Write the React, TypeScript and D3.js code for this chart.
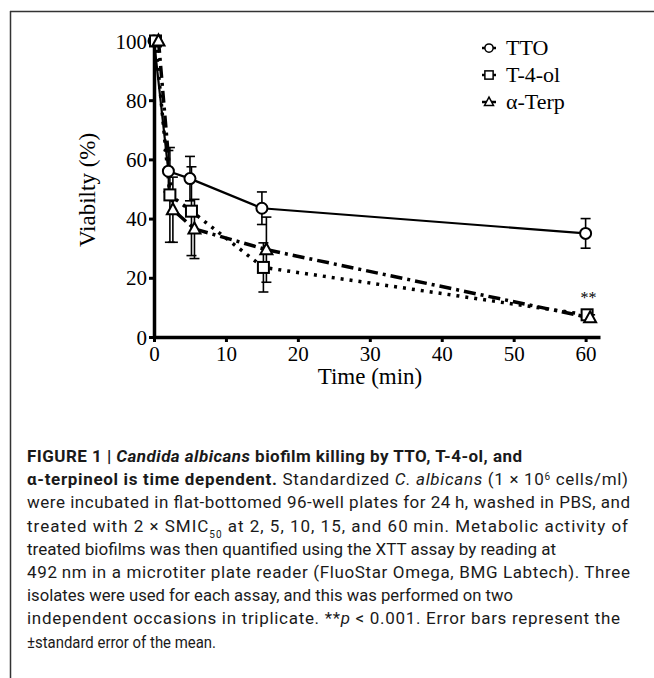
import React, { useEffect, useRef } from "react";
import * as d3 from "d3";

// time points (min) and mean viability (%) with SEM
const times = [0, 2, 5, 15, 60];
const ttoMean = [100, 56, 53.5, 43.5, 35];
const ttoErr = [0, 7, 7.5, 5.5, 5];
const t4olMean = [100, 48, 42.5, 23.5, 7.5];
const t4olErr = [0, 16, 15, 8.3, 1];
const terpMean = [100, 43, 36.5, 29.5, 6.5];
const terpErr = [0, 11, 10, 11, 1];

const xTicks = [0, 10, 20, 30, 40, 50, 60];
const yTicks = [0, 20, 40, 60, 80, 100];
const seriesNames = ["TTO", "T-4-ol", "\u03b1-Terp"];

const caption: [string, string][][] = [
  [["FIGURE 1 | ", "b"], ["Candida albicans", "bi"], [" biofilm killing by TTO, T-4-ol, and", "b"]],
  [["\u03b1-terpineol is time dependent.", "b"], [" Standardized ", "n"], ["C. albicans", "i"], [" (1 \u00d7 10", "n"], ["6", "sup"], [" cells/ml)", "n"]],
  [["were incubated in flat-bottomed 96-well plates for 24\u2009h, washed in PBS, and", "n"]],
  [["treated with 2 \u00d7 SMIC", "n"], ["50", "sub"], [" at 2, 5, 10, 15, and 60\u2009min. Metabolic activity of", "n"]],
  [["treated biofilms was then quantified using the XTT assay by reading at", "n"]],
  [["492\u2009nm in a microtiter plate reader (FluoStar Omega, BMG Labtech). Three", "n"]],
  [["isolates were used for each assay, and this was performed on two", "n"]],
  [["independent occasions in triplicate. **", "n"], ["p", "i"], [" < 0.001. Error bars represent the", "n"]],
  [["\u00b1standard error of the mean.", "n"]],
];
const captionWidths = [495, 601, 603, 601, 529, 603, 486, 593, 189];

const serif = "'Liberation Serif', 'Times New Roman', serif";

export default function App() {
  const ref = useRef<SVGSVGElement>(null);

  useEffect(() => {
    const svg = d3.select(ref.current);
    svg.selectAll("*").remove();

    // frame
    svg.append("line").attr("x1", 10).attr("x2", 654).attr("y1", 11.5).attr("y2", 11.5)
      .attr("stroke", "#333").attr("stroke-width", 1.5);
    svg.append("line").attr("x1", 10.5).attr("x2", 10.5).attr("y1", 11).attr("y2", 678)
      .attr("stroke", "#333").attr("stroke-width", 1.5);

    const x = d3.scaleLinear().domain([0, 62]).range([154, 600]);
    const y = d3.scaleLinear().domain([0, 101]).range([337, 38]);

    const xAxis = svg.append("g").attr("transform", "translate(0,337)")
      .call(d3.axisBottom(x).tickValues(xTicks).tickSize(5).tickSizeOuter(0).tickPadding(4));
    const yAxis = svg.append("g").attr("transform", "translate(154,0)")
      .call(d3.axisLeft(y).tickValues(yTicks).tickSize(5).tickSizeOuter(0).tickPadding(2));
    [xAxis, yAxis].forEach((g) => {
      g.select(".domain").attr("stroke", "#000").attr("stroke-width", 3.5);
      g.selectAll(".tick line").attr("stroke", "#000").attr("stroke-width", 3);
      g.selectAll(".tick text").attr("font-family", serif).attr("font-size", 21).attr("fill", "#000");
    });
    yAxis.selectAll(".tick text").attr("dy", "0.34em");

    svg.append("text").attr("transform", "translate(95,190) rotate(-90)")
      .attr("text-anchor", "middle").attr("font-family", serif).attr("font-size", 23)
      .text("Viabilty (%)");
    svg.append("text").attr("x", 370).attr("y", 384)
      .attr("text-anchor", "middle").attr("font-family", serif).attr("font-size", 23)
      .text("Time (min)");

    const series = [
      { mean: ttoMean, err: ttoErr, dash: null, width: 2.2, dx: 0, shape: "circle" },
      { mean: t4olMean, err: t4olErr, dash: "3,6", width: 3.5, dx: 1.5, shape: "square" },
      { mean: terpMean, err: terpErr, dash: "12,5,3,5", width: 3.5, dx: 4.5, shape: "triangle" },
    ];

    const marker = (g: any, shape: string, cx: number, cy: number) => {
      if (shape === "circle") {
        g.append("circle").attr("cx", cx).attr("cy", cy).attr("r", 5.5)
          .attr("fill", "#fff").attr("stroke", "#000").attr("stroke-width", 2);
      } else if (shape === "square") {
        g.append("rect").attr("x", cx - 5.5).attr("y", cy - 5.5).attr("width", 11).attr("height", 11)
          .attr("fill", "#fff").attr("stroke", "#000").attr("stroke-width", 2);
      } else {
        g.append("path").attr("d", `M${cx},${cy - 6.5}L${cx + 6},${cy + 4.5}L${cx - 6},${cy + 4.5}Z`)
          .attr("fill", "#fff").attr("stroke", "#000").attr("stroke-width", 2);
      }
    };

    // lines
    series.forEach((s) => {
      const line = d3.line<number>().x((_, i) => x(times[i]) + s.dx).y((d) => y(d));
      const p = svg.append("path").datum(s.mean).attr("d", line)
        .attr("fill", "none").attr("stroke", "#000").attr("stroke-width", s.width);
      if (s.dash) p.attr("stroke-dasharray", s.dash);
    });

    // error bars
    series.forEach((s) => {
      const g = svg.append("g").attr("stroke", "#000").attr("stroke-width", 1.6);
      s.mean.forEach((m, i) => {
        if (!s.err[i]) return;
        const cx = x(times[i]) + s.dx;
        const top = y(m + s.err[i]);
        const bot = y(m - s.err[i]);
        g.append("line").attr("x1", cx).attr("x2", cx).attr("y1", top).attr("y2", bot);
        g.append("line").attr("x1", cx - 5).attr("x2", cx + 5).attr("y1", top).attr("y2", top);
        g.append("line").attr("x1", cx - 5).attr("x2", cx + 5).attr("y1", bot).attr("y2", bot);
      });
    });

    // markers
    series.forEach((s) => {
      const g = svg.append("g");
      s.mean.forEach((m, i) => marker(g, s.shape, x(times[i]) + s.dx, y(m)));
    });

    svg.append("text").attr("x", x(60) + 3).attr("y", y(11.5))
      .attr("text-anchor", "middle").attr("font-family", serif).attr("font-size", 16)
      .text("**");

    // legend
    const legend = svg.append("g");
    series.forEach((s, i) => {
      const ly = 48 + i * 27;
      legend.append("line").attr("x1", 482).attr("x2", 496).attr("y1", ly).attr("y2", ly)
        .attr("stroke", "#000").attr("stroke-width", 2.5);
      const mg = legend.append("g").attr("transform", `translate(489,${ly}) scale(0.75)`);
      marker(mg, s.shape, 0, 0);
      legend.append("text").attr("x", 506).attr("y", ly).attr("dy", "0.34em")
        .attr("font-family", serif).attr("font-size", 22).text(seriesNames[i]);
    });

    // caption: stretch by word/letter spacing, squeeze glyphs only when needed
    caption.forEach((segs, i) => {
      const t = svg.append("text").attr("x", 27).attr("y", 462 + i * 23.2)
        .attr("font-family", "Roboto, 'Liberation Sans', sans-serif").attr("font-size", 17)
        .attr("fill", "#1a1a1a");
      segs.forEach(([txt, st]) => {
        const sp = t.append("tspan").text(txt);
        if (st === "b" || st === "bi") sp.attr("font-weight", "bold");
        if (st === "i" || st === "bi") sp.attr("font-style", "italic");
        if (st === "sup") sp.attr("font-size", 10).attr("baseline-shift", "super");
        if (st === "sub") sp.attr("font-size", 10).attr("baseline-shift", "sub");
      });
      const natural = (t.node() as SVGTextElement).getComputedTextLength();
      t.attr("textLength", captionWidths[i])
        .attr("lengthAdjust", captionWidths[i] >= natural ? "spacing" : "spacingAndGlyphs");
    });
  }, []);

  return (
    <svg ref={ref} width={654} height={678}
      style={{ position: "absolute", left: 0, top: 0, background: "#fff" }} />
  );
}
